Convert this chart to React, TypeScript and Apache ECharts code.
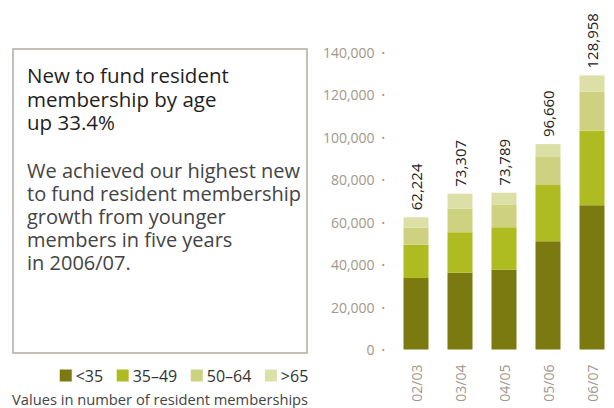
import React, { useEffect, useRef } from "react";
import * as echarts from "echarts";

const categories = ["02/03", "03/04", "04/05", "05/06", "06/07"];
const seriesNames = ["<35", "35–49", "50–64", ">65"];
const under35 = [33600, 36100, 37500, 51000, 67900];
const age35to49 = [15700, 19100, 20050, 26400, 35000];
const age50to64 = [8100, 11000, 10500, 13200, 18500];
const over65 = [4824, 7107, 5739, 6060, 7558];
const totals = [62224, 73307, 73789, 96660, 128958];
const yMin = 0;
const yMax = 140000;
const yInterval = 20000;

const titleLines = ["New to fund resident", "membership by age", "up 33.4%"];
const bodyLines = [
  "We achieved our highest new",
  "to fund resident membership",
  "growth from younger",
  "members in five years",
  "in 2006/07.",
];
const footnote = "Values in number of resident memberships";

const colors = ["#7b7a10", "#aebb21", "#ced280", "#dcdfa6"];
const FONT = "'Open Sans', 'Noto Sans', sans-serif";
const AXIS_GREY = "#a1978b";

const fmt = (v: number) => v.toLocaleString("en-US");

export default function App() {
  const ref = useRef<HTMLDivElement>(null);
  useEffect(() => {
    if (!ref.current) return;
    const chart = echarts.init(ref.current, undefined, { renderer: "svg" });
    const dataSets = [under35, age35to49, age50to64, over65];
    const series = dataSets.map((d, i) => ({
      name: seriesNames[i],
      type: "bar",
      stack: "total",
      data: d,
      barWidth: 25,
      itemStyle: { color: colors[i] },
      label:
        i === dataSets.length - 1
          ? {
              show: true,
              position: "top",
              rotate: 90,
              align: "left",
              verticalAlign: "middle",
              distance: 7,
              fontFamily: FONT,
              fontSize: 15,
              color: "#222",
              formatter: (p: any) => fmt(totals[p.dataIndex]),
            }
          : { show: false },
    }));

    const titleGraphics = titleLines.map((t, i) => ({
      type: "text",
      x: 27,
      y: 75 + i * 23.5,
      style: {
        text: t,
        font: `500 20.5px ${FONT}`,
        verticalAlign: "middle",
        fill: "#1e1e1e",
      },
    }));
    const bodyGraphics = bodyLines.map((t, i) => ({
      type: "text",
      x: 27,
      y: 170 + i * 23.1,
      style: {
        text: t,
        font: `400 20px ${FONT}`,
        verticalAlign: "middle",
        fill: "#444",
      },
    }));

    chart.setOption({
      animation: false,
      textStyle: { fontFamily: FONT },
      grid: { left: 394, width: 221, top: 52, bottom: 58.5 },
      legend: {
        data: seriesNames,
        right: 305.7,
        top: 367.5,
        icon: "rect",
        itemWidth: 12,
        itemHeight: 12,
        itemGap: 13.5,
        padding: 0,
        textStyle: { fontFamily: FONT, fontSize: 16, color: "#333", padding: [0, 0, 0, -1] },
        selectedMode: false,
      },
      xAxis: {
        type: "category",
        data: categories,
        axisLine: { show: false },
        axisTick: { show: false },
        axisLabel: {
          rotate: 90,
          margin: 15,
          fontFamily: FONT,
          fontSize: 14,
          color: AXIS_GREY,
        },
      },
      yAxis: {
        type: "value",
        min: yMin,
        max: yMax,
        interval: yInterval,
        splitLine: { show: false },
        axisLine: { show: false },
        axisTick: { show: false },
        axisLabel: {
          margin: 9,
          formatter: (v: number) => `{v|${fmt(v)}}{d|•}`,
          rich: {
            v: { fontFamily: FONT, fontSize: 14, color: AXIS_GREY },
            d: { fontFamily: FONT, fontSize: 9, color: AXIS_GREY, padding: [0, 0, 0, 7] },
          },
        },
      },
      graphic: [
        {
          type: "rect",
          shape: { x: 13, y: 49, width: 294, height: 304 },
          style: { fill: "#fff", stroke: "#b4aa9e", lineWidth: 1.5 },
          z: -1,
        },
        ...titleGraphics,
        ...bodyGraphics,
        {
          type: "text",
          x: 12,
          y: 398.5,
          style: {
            text: footnote,
            font: `14.7px ${FONT}`,
            verticalAlign: "middle",
            fill: "#444",
          },
        },
      ],
      series,
    });
    return () => chart.dispose();
  }, []);
  return (
    <div
      ref={ref}
      style={{ position: "absolute", left: 0, top: 0, width: 614, height: 408, background: "#fff" }}
    />
  );
}
